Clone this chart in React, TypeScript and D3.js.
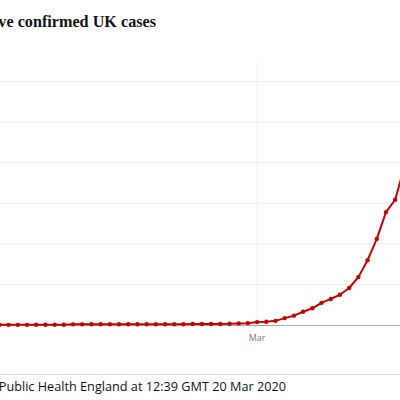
import React, { useEffect, useRef } from 'react';
import * as d3 from 'd3';

// Cumulative confirmed UK cases, one value per day from 31 Jan 2020
const startDate = new Date(2020, 0, 31);
const cases = [
  2, 2, 2, 2, 2, 2, 3, 3, 3, 4, 8, 8, 9, 9, 9, 9, 9, 9, 9, 9, 9, 9, 9, 13, 13, 13, 13, 15, 20, 23,
  36, 40, 51, 85, 115, 163, 206, 273, 321, 373, 456, 590, 798, 1061, 1391, 1543, 1950, 2626, 3269, 3983,
];
const yTicks = [500, 1000, 1500, 2000, 2500, 3000];
const xTicks = [new Date(2020, 2, 1)];
const title = 'Cumulative confirmed UK cases';
const source = 'Source: Public Health England at 12:39 GMT 20 Mar 2020';

const W = 400;
const H = 400;

export default function App() {
  const svgRef = useRef<SVGSVGElement>(null);

  useEffect(() => {
    if (!svgRef.current) return;
    const svg = d3.select(svgRef.current);
    svg.selectAll('*').remove();

    const data = cases.map((v, i) => ({ date: d3.timeDay.offset(startDate, i), value: v }));

    const x = d3
      .scaleTime()
      .domain([startDate, data[data.length - 1].date])
      .range([-19, 432]);
    const y = d3.scaleLinear().domain([0, 3240]).range([325, 62]);

    // title (chart is cropped on the left, so the start runs off the edge)
    svg.append('text')
      .attr('transform', 'translate(156,27) scale(0.925,1)')
      .attr('text-anchor', 'end')
      .style('font-family', '"Liberation Serif", serif')
      .style('font-weight', '700')
      .style('font-size', '17.5px')
      .style('fill', '#121212')
      .text(title);

    // horizontal gridlines
    svg.append('g')
      .selectAll('line')
      .data(yTicks)
      .join('line')
      .attr('x1', 0)
      .attr('x2', W)
      .attr('y1', (d) => y(d))
      .attr('y2', (d) => y(d))
      .attr('stroke', '#ededed')
      .attr('stroke-width', 1);

    // vertical month gridlines
    svg.append('g')
      .selectAll('line')
      .data(xTicks)
      .join('line')
      .attr('x1', (d) => x(d))
      .attr('x2', (d) => x(d))
      .attr('y1', y(3240))
      .attr('y2', y(0))
      .attr('stroke', '#efefef')
      .attr('stroke-width', 1);

    // baseline
    svg.append('line')
      .attr('x1', 0)
      .attr('x2', W)
      .attr('y1', y(0) + 0.5)
      .attr('y2', y(0) + 0.5)
      .attr('stroke', '#a8a8a8')
      .attr('stroke-width', 1);

    // month labels
    svg.append('g')
      .selectAll('text')
      .data(xTicks)
      .join('text')
      .attr('x', (d) => x(d))
      .attr('y', 341)
      .attr('text-anchor', 'middle')
      .style('font-family', '"Open Sans", sans-serif')
      .style('font-size', '9px')
      .style('fill', '#767676')
      .text((d) => d3.timeFormat('%b')(d));

    const line = d3
      .line<{ date: Date; value: number }>()
      .x((d) => x(d.date))
      .y((d) => y(d.value));

    svg.append('path')
      .datum(data)
      .attr('d', line)
      .attr('fill', 'none')
      .attr('stroke', '#c70000')
      .attr('stroke-width', 2)
      .attr('stroke-linejoin', 'round');

    svg.append('g')
      .selectAll('circle')
      .data(data)
      .join('circle')
      .attr('cx', (d) => x(d.date))
      .attr('cy', (d) => y(d.value))
      .attr('r', 2.2)
      .attr('fill', '#c70000');

    // source separator + note
    svg.append('line')
      .attr('x1', 0)
      .attr('x2', W)
      .attr('y1', 374.5)
      .attr('y2', 374.5)
      .attr('stroke', '#dcdcdc')
      .attr('stroke-width', 1);

    svg.append('text')
      .attr('transform', 'translate(286,391) scale(0.94,1)')
      .attr('text-anchor', 'end')
      .style('font-family', '"Open Sans", sans-serif')
      .style('font-size', '13.5px')
      .style('fill', '#121212')
      .text(source);
  }, []);

  return (
    <svg
      ref={svgRef}
      width={W}
      height={H}
      style={{ position: 'absolute', left: 0, top: 0, background: '#fff', overflow: 'hidden' }}
    />
  );
}
